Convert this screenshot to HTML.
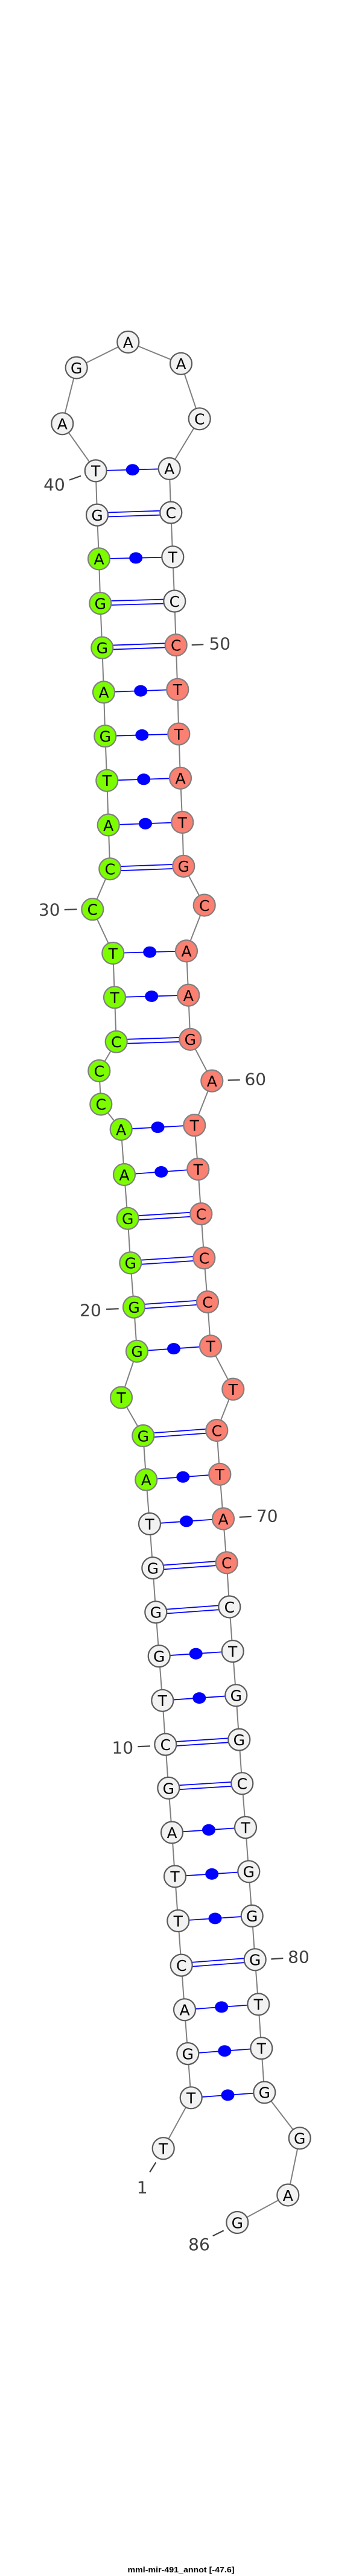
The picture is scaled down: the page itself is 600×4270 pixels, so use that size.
<!DOCTYPE html>
<html><head><meta charset="utf-8">
<style>
html,body{margin:0;padding:0;background:#fff;}
svg{display:block;}
.w{fill:#f2f2f2;stroke:#5a5a5a;stroke-width:2.2;}
.g{fill:#7cfc00;stroke:#808080;stroke-width:2.2;}
.r{fill:#fa8072;stroke:#808080;stroke-width:2.2;}
.n{font-family:"DejaVu Sans","Liberation Sans",sans-serif;font-size:25px;fill:#000;text-anchor:middle;dominant-baseline:central;}
.lb{font-family:"DejaVu Sans","Liberation Sans",sans-serif;font-size:28px;fill:#404040;text-anchor:middle;dominant-baseline:central;}
.p{stroke:#0000ff;stroke-width:1.8;}
.d{fill:#0000ff;}
.t{stroke:#404040;stroke-width:2.2;}
</style></head>
<body>
<svg width="600" height="4270" viewBox="0 0 600 4270" xmlns="http://www.w3.org/2000/svg">
<polyline fill="none" stroke="#808080" stroke-width="2" points="270.7,3561.2 316.7,3477.3 311.3,3404.1 306,3331.3 300.7,3257.6 295.3,3184 290,3110.4 285,3037.5 279.3,2963.9 274.3,2891.6 269.3,2818.8 263.7,2745.2 258.3,2672.4 253.3,2599.2 248,2526 242.3,2452.7 237.3,2380 201,2316.6 227,2239.8 222,2166.6 216.3,2093.4 211.7,2019.7 206,1947 200.7,1872 167.3,1830.4 164.3,1775 192.7,1726.8 190,1653.2 187.3,1580 153.3,1507.2 182.3,1440.3 179.7,1367.5 177.3,1293.8 174.3,1220.2 172,1147.4 169.3,1073.7 166.3,1000 164,926.4 161,853.6 158.7,780.4 103.3,702.3 126.7,609.5 212.3,567 300,602.8 330.7,694.3 280.7,776.9 283.3,849.6 286.3,923.3 289.3,996.5 291.7,1069.2 294.3,1142.9 296.3,1216.6 299,1289.8 302.3,1363 304.3,1435.8 338.7,1500.5 309,1576.4 312.3,1649.6 315.3,1722.8 351.3,1791.6 322.3,1865.2 328.3,1938 333.3,2012.1 338.3,2085.3 344,2158.1 349,2231.3 386.3,2302.7 359.3,2371 364.3,2443.8 370,2517.5 375.7,2590.3 380.3,2663.5 385.7,2737.1 391.3,2810.3 396.3,2883.6 401.3,2956.3 407,3029.1 412.3,3102.3 417.7,3175.9 422.7,3248.3 428.3,3322.4 433.3,3395.2 438.3,3468.4 496.7,3544.3 477.3,3638.5 393.3,3684"/>

<!-- dot pairs -->
<g class="p">
<line x1="316.7" y1="3477.3" x2="438.3" y2="3468.4"/>
<line x1="311.3" y1="3404.1" x2="433.3" y2="3395.2"/>
<line x1="306" y1="3331.3" x2="428.3" y2="3322.4"/>
<line x1="295.3" y1="3184" x2="417.7" y2="3175.9"/>
<line x1="290" y1="3110.4" x2="412.3" y2="3102.3"/>
<line x1="285" y1="3037.5" x2="407" y2="3029.1"/>
<line x1="269.3" y1="2818.8" x2="391.3" y2="2810.3"/>
<line x1="263.7" y1="2745.2" x2="385.7" y2="2737.1"/>
<line x1="248" y1="2526" x2="370" y2="2517.5"/>
<line x1="242.3" y1="2452.7" x2="364.3" y2="2443.8"/>
<line x1="227" y1="2239.8" x2="349" y2="2231.3"/>
<line x1="206" y1="1947" x2="328.3" y2="1938"/>
<line x1="200.7" y1="1872" x2="322.3" y2="1865.2"/>
<line x1="190" y1="1653.2" x2="312.3" y2="1649.6"/>
<line x1="187.3" y1="1580" x2="309" y2="1576.4"/>
<line x1="179.7" y1="1367.5" x2="302.3" y2="1363"/>
<line x1="177.3" y1="1293.8" x2="299" y2="1289.8"/>
<line x1="174.3" y1="1220.2" x2="296.3" y2="1216.6"/>
<line x1="172" y1="1147.4" x2="294.3" y2="1142.9"/>
<line x1="164" y1="926.4" x2="286.3" y2="923.3"/>
<line x1="158.7" y1="780.4" x2="280.7" y2="776.9"/>
</g>
<g class="d">
<ellipse cx="377.5" cy="3472.9" rx="11" ry="9.5"/>
<ellipse cx="372.3" cy="3399.7" rx="11" ry="9.5"/>
<ellipse cx="367.2" cy="3326.9" rx="11" ry="9.5"/>
<ellipse cx="356.5" cy="3180" rx="11" ry="9.5"/>
<ellipse cx="351.2" cy="3106.4" rx="11" ry="9.5"/>
<ellipse cx="346" cy="3033.3" rx="11" ry="9.5"/>
<ellipse cx="330.3" cy="2814.6" rx="11" ry="9.5"/>
<ellipse cx="324.7" cy="2741.2" rx="11" ry="9.5"/>
<ellipse cx="309" cy="2521.8" rx="11" ry="9.5"/>
<ellipse cx="303.3" cy="2448.3" rx="11" ry="9.5"/>
<ellipse cx="288" cy="2235.6" rx="11" ry="9.5"/>
<ellipse cx="267.2" cy="1942.5" rx="11" ry="9.5"/>
<ellipse cx="261.5" cy="1868.6" rx="11" ry="9.5"/>
<ellipse cx="251.2" cy="1651.4" rx="11" ry="9.5"/>
<ellipse cx="248.2" cy="1578.2" rx="11" ry="9.5"/>
<ellipse cx="241" cy="1365.3" rx="11" ry="9.5"/>
<ellipse cx="238.2" cy="1291.8" rx="11" ry="9.5"/>
<ellipse cx="235.3" cy="1218.4" rx="11" ry="9.5"/>
<ellipse cx="233.2" cy="1145.2" rx="11" ry="9.5"/>
<ellipse cx="225.2" cy="924.9" rx="11" ry="9.5"/>
<ellipse cx="219.7" cy="778.7" rx="11" ry="9.5"/>
</g>

<!-- double pairs -->
<g class="p">
<line x1="300.7" y1="3254.1" x2="422.7" y2="3244.8"/><line x1="300.7" y1="3261.1" x2="422.7" y2="3251.8"/>
<line x1="279.3" y1="2960.4" x2="401.3" y2="2952.8"/><line x1="279.3" y1="2967.4" x2="401.3" y2="2959.8"/>
<line x1="274.3" y1="2888.1" x2="396.3" y2="2880.1"/><line x1="274.3" y1="2895.1" x2="396.3" y2="2887.1"/>
<line x1="258.3" y1="2668.9" x2="380.3" y2="2660"/><line x1="258.3" y1="2675.9" x2="380.3" y2="2667"/>
<line x1="253.3" y1="2595.7" x2="375.7" y2="2586.8"/><line x1="253.3" y1="2602.7" x2="375.7" y2="2593.8"/>
<line x1="237.3" y1="2376.5" x2="359.3" y2="2367.5"/><line x1="237.3" y1="2383.5" x2="359.3" y2="2374.5"/>
<line x1="222" y1="2163.1" x2="344" y2="2154.6"/><line x1="222" y1="2170.1" x2="344" y2="2161.6"/>
<line x1="216.3" y1="2089.9" x2="338.3" y2="2081.8"/><line x1="216.3" y1="2096.9" x2="338.3" y2="2088.8"/>
<line x1="211.7" y1="2016.2" x2="333.3" y2="2008.6"/><line x1="211.7" y1="2023.2" x2="333.3" y2="2015.6"/>
<line x1="192.7" y1="1723.3" x2="315.3" y2="1719.3"/><line x1="192.7" y1="1730.3" x2="315.3" y2="1726.3"/>
<line x1="182.3" y1="1436.8" x2="304.3" y2="1432.3"/><line x1="182.3" y1="1443.8" x2="304.3" y2="1439.3"/>
<line x1="169.3" y1="1070.2" x2="291.7" y2="1065.7"/><line x1="169.3" y1="1077.2" x2="291.7" y2="1072.7"/>
<line x1="166.3" y1="996.5" x2="289.3" y2="993"/><line x1="166.3" y1="1003.5" x2="289.3" y2="1000"/>
<line x1="161" y1="850.1" x2="283.3" y2="846.1"/><line x1="161" y1="857.1" x2="283.3" y2="853.1"/>
</g>

<!-- nodes -->
<g>
<circle class="w" cx="270.7" cy="3561.2" r="18"/><text class="n" x="270.7" y="3562">T</text>
<circle class="w" cx="316.7" cy="3477.3" r="18"/><text class="n" x="316.7" y="3478">T</text>
<circle class="w" cx="311.3" cy="3404.1" r="18"/><text class="n" x="311.3" y="3405">G</text>
<circle class="w" cx="306" cy="3331.3" r="18"/><text class="n" x="306" y="3332">A</text>
<circle class="w" cx="300.7" cy="3257.6" r="18"/><text class="n" x="300.7" y="3258.5">C</text>
<circle class="w" cx="295.3" cy="3184" r="18"/><text class="n" x="295.3" y="3185">T</text>
<circle class="w" cx="290" cy="3110.4" r="18"/><text class="n" x="290" y="3111">T</text>
<circle class="w" cx="285" cy="3037.5" r="18"/><text class="n" x="285" y="3038.5">A</text>
<circle class="w" cx="279.3" cy="2963.9" r="18"/><text class="n" x="279.3" y="2965">G</text>
<circle class="w" cx="274.3" cy="2891.6" r="18"/><text class="n" x="274.3" y="2892.5">C</text>
<circle class="w" cx="269.3" cy="2818.8" r="18"/><text class="n" x="269.3" y="2819.5">T</text>
<circle class="w" cx="263.7" cy="2745.2" r="18"/><text class="n" x="263.7" y="2746">G</text>
<circle class="w" cx="258.3" cy="2672.4" r="18"/><text class="n" x="258.3" y="2673">G</text>
<circle class="w" cx="253.3" cy="2599.2" r="18"/><text class="n" x="253.3" y="2600">G</text>
<circle class="w" cx="248" cy="2526" r="18"/><text class="n" x="248" y="2527">T</text>
<circle class="g" cx="242.3" cy="2452.7" r="18"/><text class="n" x="242.3" y="2453.5">A</text>
<circle class="g" cx="237.3" cy="2380" r="18"/><text class="n" x="237.3" y="2381">G</text>
<circle class="g" cx="201" cy="2316.6" r="18"/><text class="n" x="201" y="2317.5">T</text>
<circle class="g" cx="227" cy="2239.8" r="18"/><text class="n" x="227" y="2240.5">G</text>
<circle class="g" cx="222" cy="2166.6" r="18"/><text class="n" x="222" y="2167.5">G</text>
<circle class="g" cx="216.3" cy="2093.4" r="18"/><text class="n" x="216.3" y="2094">G</text>
<circle class="g" cx="211.7" cy="2019.7" r="18"/><text class="n" x="211.7" y="2020.5">G</text>
<circle class="g" cx="206" cy="1947" r="18"/><text class="n" x="206" y="1948">A</text>
<circle class="g" cx="200.7" cy="1872" r="18"/><text class="n" x="200.7" y="1873">A</text>
<circle class="g" cx="167.3" cy="1830.4" r="18"/><text class="n" x="167.3" y="1831">C</text>
<circle class="g" cx="164.3" cy="1775" r="18"/><text class="n" x="164.3" y="1776">C</text>
<circle class="g" cx="192.7" cy="1726.8" r="18"/><text class="n" x="192.7" y="1727.5">C</text>
<circle class="g" cx="190" cy="1653.2" r="18"/><text class="n" x="190" y="1654">T</text>
<circle class="g" cx="187.3" cy="1580" r="18"/><text class="n" x="187.3" y="1581">T</text>
<circle class="g" cx="153.3" cy="1507.2" r="18"/><text class="n" x="153.3" y="1508">C</text>
<circle class="g" cx="182.3" cy="1440.3" r="18"/><text class="n" x="182.3" y="1441">C</text>
<circle class="g" cx="179.7" cy="1367.5" r="18"/><text class="n" x="179.7" y="1368.5">A</text>
<circle class="g" cx="177.3" cy="1293.8" r="18"/><text class="n" x="177.3" y="1294.5">T</text>
<circle class="g" cx="174.3" cy="1220.2" r="18"/><text class="n" x="174.3" y="1221">G</text>
<circle class="g" cx="172" cy="1147.4" r="18"/><text class="n" x="172" y="1148">A</text>
<circle class="g" cx="169.3" cy="1073.7" r="18"/><text class="n" x="169.3" y="1074.5">G</text>
<circle class="g" cx="166.3" cy="1000" r="18"/><text class="n" x="166.3" y="1001">G</text>
<circle class="g" cx="164" cy="926.4" r="18"/><text class="n" x="164" y="927">A</text>
<circle class="w" cx="161" cy="853.6" r="18"/><text class="n" x="161" y="854.5">G</text>
<circle class="w" cx="158.7" cy="780.4" r="18"/><text class="n" x="158.7" y="781">T</text>
<circle class="w" cx="103.3" cy="702.3" r="18"/><text class="n" x="103.3" y="703">A</text>
<circle class="w" cx="126.7" cy="609.5" r="18"/><text class="n" x="126.7" y="610.5">G</text>
<circle class="w" cx="212.3" cy="567" r="18"/><text class="n" x="212.3" y="568">A</text>
<circle class="w" cx="300" cy="602.8" r="18"/><text class="n" x="300" y="603.5">A</text>
<circle class="w" cx="330.7" cy="694.3" r="18"/><text class="n" x="330.7" y="695">C</text>
<circle class="w" cx="280.7" cy="776.9" r="18"/><text class="n" x="280.7" y="777.5">A</text>
<circle class="w" cx="283.3" cy="849.6" r="18"/><text class="n" x="283.3" y="850.5">C</text>
<circle class="w" cx="286.3" cy="923.3" r="18"/><text class="n" x="286.3" y="924">T</text>
<circle class="w" cx="289.3" cy="996.5" r="18"/><text class="n" x="289.3" y="997.5">C</text>
<circle class="r" cx="291.7" cy="1069.2" r="18"/><text class="n" x="291.7" y="1070">C</text>
<circle class="r" cx="294.3" cy="1142.9" r="18"/><text class="n" x="294.3" y="1143.5">T</text>
<circle class="r" cx="296.3" cy="1216.6" r="18"/><text class="n" x="296.3" y="1217.5">T</text>
<circle class="r" cx="299" cy="1289.8" r="18"/><text class="n" x="299" y="1290.5">A</text>
<circle class="r" cx="302.3" cy="1363" r="18"/><text class="n" x="302.3" y="1364">T</text>
<circle class="r" cx="304.3" cy="1435.8" r="18"/><text class="n" x="304.3" y="1436.5">G</text>
<circle class="r" cx="338.7" cy="1500.5" r="18"/><text class="n" x="338.7" y="1501.5">C</text>
<circle class="r" cx="309" cy="1576.4" r="18"/><text class="n" x="309" y="1577">A</text>
<circle class="r" cx="312.3" cy="1649.6" r="18"/><text class="n" x="312.3" y="1650.5">A</text>
<circle class="r" cx="315.3" cy="1722.8" r="18"/><text class="n" x="315.3" y="1723.5">G</text>
<circle class="r" cx="351.3" cy="1791.6" r="18"/><text class="n" x="351.3" y="1792.5">A</text>
<circle class="r" cx="322.3" cy="1865.2" r="18"/><text class="n" x="322.3" y="1866">T</text>
<circle class="r" cx="328.3" cy="1938" r="18"/><text class="n" x="328.3" y="1939">T</text>
<circle class="r" cx="333.3" cy="2012.1" r="18"/><text class="n" x="333.3" y="2013">C</text>
<circle class="r" cx="338.3" cy="2085.3" r="18"/><text class="n" x="338.3" y="2086">C</text>
<circle class="r" cx="344" cy="2158.1" r="18"/><text class="n" x="344" y="2159">C</text>
<circle class="r" cx="349" cy="2231.3" r="18"/><text class="n" x="349" y="2232">T</text>
<circle class="r" cx="386.3" cy="2302.7" r="18"/><text class="n" x="386.3" y="2303.5">T</text>
<circle class="r" cx="359.3" cy="2371" r="18"/><text class="n" x="359.3" y="2372">C</text>
<circle class="r" cx="364.3" cy="2443.8" r="18"/><text class="n" x="364.3" y="2444.5">T</text>
<circle class="r" cx="370" cy="2517.5" r="18"/><text class="n" x="370" y="2518.5">A</text>
<circle class="r" cx="375.7" cy="2590.3" r="18"/><text class="n" x="375.7" y="2591">C</text>
<circle class="w" cx="380.3" cy="2663.5" r="18"/><text class="n" x="380.3" y="2664.5">C</text>
<circle class="w" cx="385.7" cy="2737.1" r="18"/><text class="n" x="385.7" y="2738">T</text>
<circle class="w" cx="391.3" cy="2810.3" r="18"/><text class="n" x="391.3" y="2811">G</text>
<circle class="w" cx="396.3" cy="2883.6" r="18"/><text class="n" x="396.3" y="2884.5">G</text>
<circle class="w" cx="401.3" cy="2956.3" r="18"/><text class="n" x="401.3" y="2957">C</text>
<circle class="w" cx="407" cy="3029.1" r="18"/><text class="n" x="407" y="3030">T</text>
<circle class="w" cx="412.3" cy="3102.3" r="18"/><text class="n" x="412.3" y="3103">G</text>
<circle class="w" cx="417.7" cy="3175.9" r="18"/><text class="n" x="417.7" y="3176.5">G</text>
<circle class="w" cx="422.7" cy="3248.3" r="18"/><text class="n" x="422.7" y="3249">G</text>
<circle class="w" cx="428.3" cy="3322.4" r="18"/><text class="n" x="428.3" y="3323">T</text>
<circle class="w" cx="433.3" cy="3395.2" r="18"/><text class="n" x="433.3" y="3396">T</text>
<circle class="w" cx="438.3" cy="3468.4" r="18"/><text class="n" x="438.3" y="3469">G</text>
<circle class="w" cx="496.7" cy="3544.3" r="18"/><text class="n" x="496.7" y="3545">G</text>
<circle class="w" cx="477.3" cy="3638.5" r="18"/><text class="n" x="477.3" y="3639.5">A</text>
<circle class="w" cx="393.3" cy="3684" r="18"/><text class="n" x="393.3" y="3685">G</text>
</g>

<!-- position labels -->
<g class="t">
<line x1="115" y1="795.6" x2="134" y2="788.9"/>
<line x1="317.7" y1="1069.2" x2="337.3" y2="1068.3"/>
<line x1="106.7" y1="1508" x2="127.7" y2="1507.2"/>
<line x1="377.7" y1="1790.6" x2="397.7" y2="1790.2"/>
<line x1="176" y1="2170.2" x2="196.7" y2="2169.3"/>
<line x1="396.7" y1="2514.8" x2="416.7" y2="2513.9"/>
<line x1="228.3" y1="2895.2" x2="249" y2="2894.3"/>
<line x1="449.3" y1="3247.4" x2="469.3" y2="3246"/>
<line x1="258.3" y1="3584.4" x2="248.3" y2="3600.5"/>
<line x1="352.7" y1="3706.3" x2="370.7" y2="3697.4"/>
</g>
<text class="lb" x="90" y="803.6">40</text>
<text class="lb" x="364.3" y="1067">50</text>
<text class="lb" x="81.7" y="1508">30</text>
<text class="lb" x="423.3" y="1789">60</text>
<text class="lb" x="150" y="2172">20</text>
<text class="lb" x="442.7" y="2513">70</text>
<text class="lb" x="203.3" y="2897">10</text>
<text class="lb" x="495" y="3244">80</text>
<text class="lb" x="235.7" y="3626">1</text>
<text class="lb" x="330" y="3720.6">86</text>

<text x="300" y="4264" text-anchor="middle" font-family="Liberation Sans, sans-serif" font-weight="bold" font-size="13" textLength="177" lengthAdjust="spacingAndGlyphs" fill="#000">mml-mir-491_annot [-47.6]</text>
</svg>
</body></html>
